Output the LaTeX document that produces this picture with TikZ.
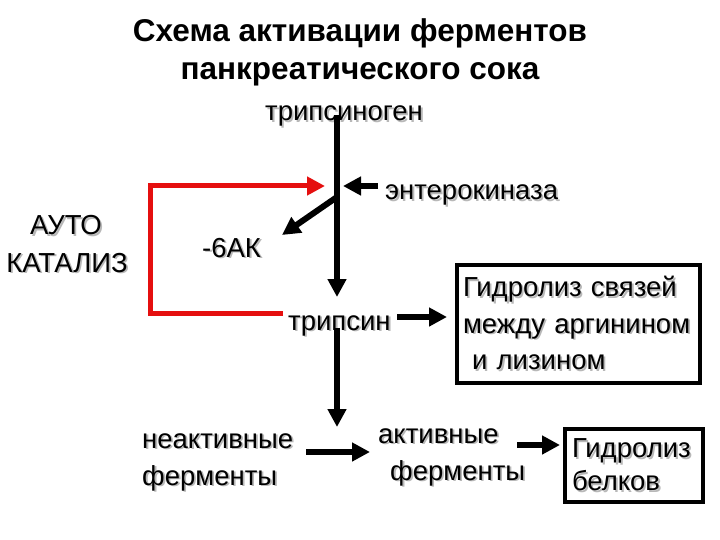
\documentclass[tikz,border=0pt]{standalone}
\usepackage{fontspec}
\setmainfont{Liberation Sans}
\usetikzlibrary{arrows.meta, positioning}
\definecolor{shadowgray}{HTML}{B8B8B8}
\definecolor{autored}{HTML}{E50F0F}
\newcommand{\shd}[1]{\makebox[0pt][l]{\kern1.8pt\raisebox{-1.8pt}{\textcolor{shadowgray}{#1}}}#1}
\tikzset{
    titletext/.style={inner sep=0pt, anchor=base, font=\fontsize{31.5}{38}\selectfont\bfseries},
    labeltext/.style={inner sep=0pt, anchor=base west, font=\fontsize{27.5}{36}\selectfont},
    hydbox/.style={draw, line width=4.5pt, inner xsep=6pt, outer sep=0pt, align=left, anchor=north west, font=\fontsize{27.5}{36.5}\selectfont},
    fatarrow/.style={line width=6pt, -{Triangle[length=18pt, width=18pt]}},
    redarrow/.style={fatarrow, line width=5pt, draw=autored}
}

\begin{document}
\begin{tikzpicture}[x=1pt, y=-1pt]
% Activation scheme of pancreatic juice enzymes.
  \fill[white] (0,0) rectangle (720,540);
  \useasboundingbox (0,0) rectangle (720,540);
  \node[titletext] (titleA) at (360,42) {Схема активации ферментов};
  \node[titletext] (titleB) at (360,80) {панкреатического сока};
  \node[labeltext] (tgen) at (265,121) {\shd{трипсиноген}};
  \node[labeltext] (ekin) at (385,200) {\shd{энтерокиназа}};
  \node[labeltext] (aa6) at (202,257) {\shd{-6АК}};
  \node[labeltext] (tsin) at (288,330) {\shd{трипсин}};
  \node[labeltext, anchor=base] (autoA) at (66,235) {\shd{АУТО}};
  \node[labeltext, anchor=base] (autoB) at (67,272) {\shd{КАТАЛИЗ}};
  \node[labeltext] (inactA) at (142,448) {\shd{неактивные}};
  \node[labeltext] (inactB) at (142,485) {\shd{ферменты}};
  \node[labeltext] (actA) at (378,443) {\shd{активные}};
  \node[labeltext] (actB) at (390,480) {\shd{ферменты}};
  \node[hydbox, minimum width=243pt, minimum height=118pt, text width=231pt] (hydbond) at (457,265)
    {\shd{Гидролиз связей}\\\shd{между аргинином}\\\ \shd{и лизином}};
  \node[hydbox, inner xsep=7pt, minimum width=138pt, minimum height=73pt, text width=124pt,
    font=\fontsize{27.5}{33}\selectfont] (hydprot) at (565,429) {\shd{Гидролиз}\\\shd{белков}};
  \coordinate (top) at (337,115);
  \coordinate (join) at (337,186);
  \coordinate (split) at (337,197);
  \coordinate (tsintip) at (337,297);
  \coordinate (ekstart) at (378,186);
  \coordinate (aatip) at (282,235);
  \coordinate (loopstart) at (283,313);
  \coordinate (loopcorner) at (150,186);
  \coordinate (looptip) at (325,186);
  \coordinate (tsinout) at (337,328);
  \coordinate (enztip) at (337,427);
  \coordinate (tsinR) at (397,317);
  \coordinate (hydtip) at (447,317);
  \coordinate (inactR) at (306,452);
  \coordinate (acttip) at (370,452);
  \coordinate (actR) at (517,445);
  \coordinate (prottip) at (560,445);
  \draw[fatarrow] (top) -- (tsintip);
  \draw[fatarrow] (ekstart) -- ([xshift=6pt]join);
  \draw[fatarrow] (split) -- (aatip);
  \draw[redarrow] (loopstart) -| (loopcorner) -- (looptip);
  \draw[fatarrow] (tsinout) -- (enztip);
  \draw[fatarrow] (tsinR) -- (hydtip);
  \draw[fatarrow] (inactR) -- (acttip);
  \draw[fatarrow] (actR) -- (prottip);
\end{tikzpicture}
\end{document}
